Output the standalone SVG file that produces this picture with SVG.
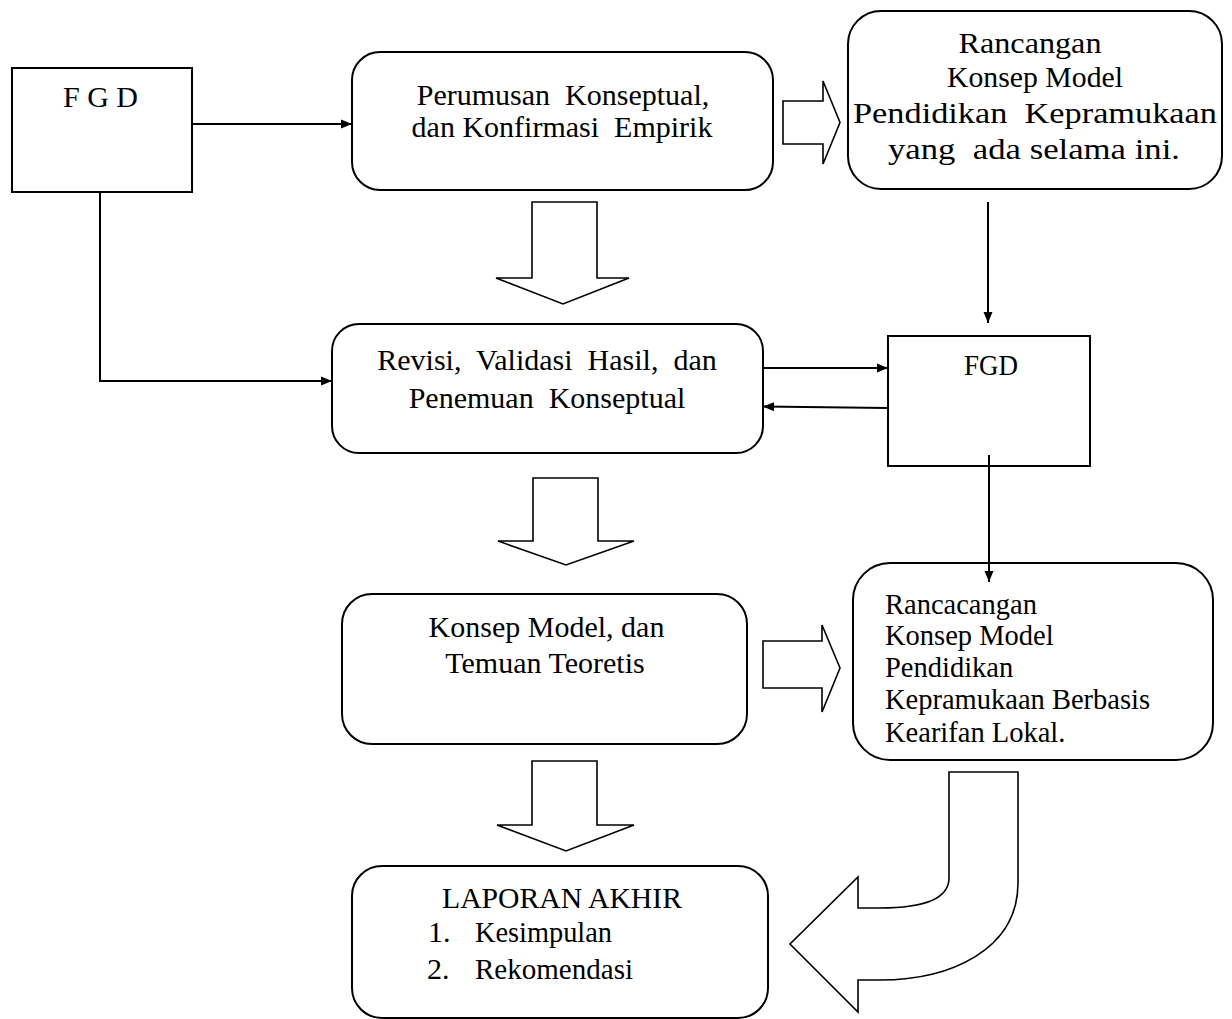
<svg xmlns="http://www.w3.org/2000/svg" width="1232" height="1019" viewBox="0 0 1232 1019" xml:space="preserve">
<style>
.box{fill:#fff;stroke:#000;stroke-width:2}
.blk{fill:#fff;stroke:#000;stroke-width:1.6;stroke-linejoin:miter}
.con{fill:none;stroke:#000;stroke-width:2}
text{font-family:"Liberation Serif","Times New Roman",serif;font-size:30px;fill:#000;white-space:pre}
.c{text-anchor:middle}
.s{font-size:28.5px}
</style>
<defs>
<marker id="ah" markerUnits="userSpaceOnUse" markerWidth="12" markerHeight="10" refX="11" refY="5" orient="auto">
<path d="M0,0.5 L11,5 L0,9.5 z" fill="#000"/>
</marker>
<clipPath id="clipR"><rect x="853" y="563" width="360" height="182"/></clipPath>
</defs>
<rect width="1232" height="1019" fill="#fff"/>

<g id="fgd1">
<rect class="box" x="12" y="68" width="180" height="124"/>
<text class="c" x="100.5" y="107">F G D</text>
</g>

<g id="perumusan">
<rect class="box" x="352" y="52" width="421" height="138" rx="28"/>
<text class="c" x="563" y="105">Perumusan  Konseptual,</text>
<text class="c" x="562" y="137">dan Konfirmasi  Empirik</text>
</g>

<g id="rancangan">
<rect class="box" x="848" y="11" width="374" height="178" rx="33"/>
<text class="c" x="1030" y="53" textLength="143" lengthAdjust="spacingAndGlyphs">Rancangan</text>
<text class="c" x="1035" y="87" textLength="176" lengthAdjust="spacingAndGlyphs">Konsep Model</text>
<text class="c" x="1035" y="123" textLength="364" lengthAdjust="spacingAndGlyphs">Pendidikan  Kepramukaan</text>
<text class="c" x="1034" y="159" textLength="292" lengthAdjust="spacingAndGlyphs">yang  ada selama ini.</text>
</g>

<g id="revisi">
<rect class="box" x="332" y="324" width="431" height="129" rx="27"/>
<text class="c" x="547" y="370">Revisi,  Validasi  Hasil,  dan</text>
<text class="c" x="547" y="408">Penemuan  Konseptual</text>
</g>

<g id="fgd2">
<rect class="box" x="888" y="336" width="202" height="130"/>
<text class="c" x="991" y="375" textLength="54" lengthAdjust="spacingAndGlyphs">FGD</text>
</g>

<g id="konsep">
<rect class="box" x="342" y="594" width="405" height="150" rx="30"/>
<text class="c" x="546.5" y="637">Konsep Model, dan</text>
<text class="c" x="545" y="673">Temuan Teoretis</text>
</g>

<g id="rancacangan">
<rect class="box" x="853" y="563" width="360" height="197" rx="37"/>
<g clip-path="url(#clipR)">
<text class="s" x="885" y="614">Rancacangan</text>
<text class="s" x="885" y="645">Konsep Model</text>
<text class="s" x="885" y="677">Pendidikan</text>
<text class="s" x="885" y="709">Kepramukaan Berbasis</text>
<text class="s" x="885" y="742">Kearifan Lokal.</text>
</g>
</g>

<g id="laporan">
<rect class="box" x="352" y="866" width="416" height="152" rx="30"/>
<text class="c" x="562" y="908" textLength="240" lengthAdjust="spacingAndGlyphs">LAPORAN AKHIR</text>
<text x="428" y="942">1.</text>
<text x="475" y="942" textLength="137" lengthAdjust="spacingAndGlyphs">Kesimpulan</text>
<text x="427" y="979">2.</text>
<text x="475" y="979" textLength="158" lengthAdjust="spacingAndGlyphs">Rekomendasi</text>
</g>

<g id="connectors">
<path class="con" d="M192,124 H352" marker-end="url(#ah)"/>
<path class="con" d="M100,192 V381 H332" marker-end="url(#ah)"/>
<path class="con" d="M763,368 H888" marker-end="url(#ah)"/>
<path class="con" d="M888,408 L763,406.5" marker-end="url(#ah)"/>
<path class="con" d="M988,202 V323" marker-end="url(#ah)"/>
<path class="con" d="M989,455 V582" marker-end="url(#ah)"/>
<path class="blk" d="M783,101 H823 V81 L840,122.5 L823,164 V144 H783 Z"/>
<path class="blk" d="M763,641 H822 V625 L840,668 L822,712 V688 H763 Z"/>
<path class="blk" d="M532,202 H597 V278 H629 L563,304 L496,278 H532 Z"/>
<path class="blk" d="M533,478 H598 V541 H634 L566,565 L498,541 H533 Z"/>
<path class="blk" d="M532,761 H597 V825 H634 L566,851 L497,825 H532 Z"/>
<path class="blk" d="M949,772 H1018 V883 C1018,950 950,980 880,980 H858 V1012 L790,944 L858,877 V908 H880 C920,908 949,900 949,878 Z"/>
</g>
</svg>
